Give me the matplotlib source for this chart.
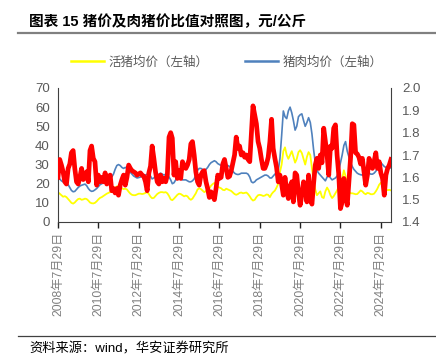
import matplotlib
matplotlib.use("Agg")
import matplotlib.pyplot as plt
import matplotlib.dates as mdates
from matplotlib.lines import Line2D
import pandas as pd

plt.rcParams['font.family'] = ['Liberation Sans', 'Noto Sans CJK SC', 'DejaVu Sans']

# ---------------- data (monthly, starting 2008-07-29) ----------------
start_date = "2008-07-29"

hog_price = [  # 活猪均价（左轴）
    15.5, 14.8, 14.0, 13.2, 13.5,
    13.0, 12.0, 11.0, 10.0, 9.6, 10.2, 11.2, 12.0, 12.2, 11.6, 11.8, 12.2,
    12.0, 11.2, 10.2, 9.8, 9.7, 10.0, 10.8, 11.8, 12.6, 13.0, 13.6, 14.2,
    14.8, 15.2, 15.6, 16.0, 16.8, 17.8, 18.6, 18.8, 18.4, 17.6, 17.2, 17.4,
    17.0, 15.8, 14.8, 14.2, 14.0, 14.0, 14.4, 14.8, 14.8, 14.6, 14.8, 15.2,
    15.6, 14.6, 13.2, 12.4, 12.6, 13.6, 14.6, 15.2, 15.6, 15.6, 15.4, 15.6,
    15.0, 13.6, 11.8, 11.4, 12.2, 13.2, 14.2, 14.8, 14.6, 14.0, 13.4, 13.8,
    13.4, 12.2, 11.6, 12.2, 13.6, 15.0, 17.0, 17.6, 17.2, 16.4, 15.6, 16.2,
    17.0, 17.6, 19.0, 19.8, 20.4, 19.6, 18.4, 18.0, 17.6, 16.8, 16.6, 17.4,
    17.0, 16.6, 16.2, 15.4, 14.6, 14.2, 14.6, 15.2, 15.4, 15.0, 15.2, 15.4,
    14.6, 13.4, 12.0, 11.2, 11.6, 13.0, 14.0, 14.2, 14.0, 13.6, 13.8, 14.4,
    14.2, 13.0, 14.6, 15.6, 16.4, 18.0, 20.0, 26.0, 30.0, 37.0, 39.0, 35.0,
    33.0, 35.0, 37.0, 34.0, 31.0, 33.0, 36.5, 37.5, 36.0, 33.0, 30.0, 34.0,
    36.5, 35.0, 28.0, 22.0, 17.0, 14.0, 15.0, 16.0, 13.0, 12.5, 16.0, 18.0,
    16.5, 14.0, 12.5, 13.5, 15.0, 16.5, 18.5, 21.0, 22.5, 27.0, 24.0, 19.0,
    16.0, 15.0, 15.0, 14.8, 14.5, 14.6, 15.5, 16.5, 16.0, 15.0, 14.5, 15.2,
    15.0, 14.5, 14.5, 14.8, 16.0, 17.5, 19.5, 20.5, 19.0, 18.0, 17.0, 16.6,
    16.8, 16.5,
]

pork_price = [  # 猪肉均价（左轴）
    23.0, 22.5, 21.5, 21.0, 21.2,
    20.5, 19.5, 18.0, 16.5, 15.8, 16.0, 17.0, 18.0, 18.8, 19.2, 19.5, 19.8,
    19.0, 17.5, 16.5, 16.0, 16.2, 16.8, 17.5, 18.5, 19.5, 20.0, 20.5, 21.0,
    21.5, 22.0, 22.5, 23.5, 25.0, 27.5, 29.5, 30.0, 29.5, 28.5, 28.0, 28.5,
    28.0, 27.0, 26.0, 25.0, 24.0, 23.5, 23.0, 23.2, 23.5, 24.0, 24.5, 24.5,
    25.0, 25.5, 24.0, 22.5, 23.0, 24.0, 24.5, 25.0, 25.5, 25.0, 24.5, 25.0,
    24.5, 23.5, 22.0, 20.0, 20.5, 22.0, 23.0, 23.0, 22.5, 22.0, 22.0, 22.0,
    21.5, 21.0, 21.0, 21.5, 22.5, 24.5, 27.0, 28.0, 28.0, 27.5, 27.0, 27.5,
    28.5, 30.0, 31.0, 31.5, 32.0, 31.5, 30.5, 30.0, 29.5, 29.0, 29.0, 29.5,
    29.5, 29.0, 28.0, 26.5, 25.5, 25.0, 24.8, 25.0, 25.5, 25.5, 25.5, 25.5,
    25.0, 23.5, 21.0, 20.5, 21.0, 22.0, 22.5, 23.0, 23.5, 24.0, 24.5, 24.5,
    24.0, 23.0, 23.0, 24.0, 25.0, 25.5, 27.0, 33.0, 45.0, 58.0, 55.0, 54.0,
    58.0, 60.0, 57.0, 53.0, 48.0, 50.0, 55.0, 56.0, 56.5, 53.0, 50.0, 52.0,
    54.5, 52.0, 46.0, 38.0, 31.0, 27.0, 25.5, 24.5, 23.5, 22.5, 21.5, 23.5,
    24.5, 23.0, 22.0, 22.5, 23.0, 24.0, 27.0, 31.0, 35.0, 40.0, 42.0, 37.0,
    34.0, 31.0, 29.0, 27.5, 26.5, 25.5, 25.0, 24.7, 24.5, 25.0, 25.5, 25.5,
    25.5, 25.0, 25.0, 25.5, 26.5, 28.0, 30.0, 31.0, 30.0, 29.0, 28.5, 28.0,
    28.0, 28.5,
]

pork_hog_ratio = [  # 肉猪价比值（右轴）
    1.60, 1.68, 1.655, 1.625, 1.58,
    1.57, 1.64, 1.66, 1.71, 1.72, 1.64, 1.58, 1.57, 1.60, 1.64, 1.59, 1.60,
    1.625, 1.58, 1.72, 1.74, 1.685, 1.67, 1.565, 1.61, 1.58, 1.60, 1.58, 1.62,
    1.57, 1.59, 1.61, 1.54, 1.55, 1.53, 1.55, 1.52, 1.565, 1.59, 1.61, 1.565,
    1.60, 1.655, 1.64, 1.63, 1.625, 1.62, 1.61, 1.615, 1.62, 1.61, 1.605, 1.58,
    1.54, 1.62, 1.65, 1.74, 1.685, 1.625, 1.58, 1.57, 1.61, 1.58, 1.595, 1.58,
    1.61, 1.78, 1.80, 1.775, 1.61, 1.67, 1.595, 1.63, 1.595, 1.67, 1.65, 1.64,
    1.655, 1.68, 1.75, 1.76, 1.70, 1.625, 1.58, 1.565, 1.61, 1.625, 1.63, 1.58,
    1.55, 1.51, 1.535, 1.52, 1.50, 1.55, 1.61, 1.595, 1.60, 1.66, 1.68, 1.64,
    1.60, 1.605, 1.63, 1.665, 1.70, 1.78, 1.73, 1.74, 1.70, 1.71, 1.69, 1.70,
    1.68, 1.67, 1.80, 1.92, 1.88, 1.84, 1.76, 1.73, 1.68, 1.64, 1.64, 1.66,
    1.69, 1.76, 1.86, 1.73, 1.685, 1.645, 1.58, 1.61, 1.57, 1.52, 1.60, 1.54,
    1.505, 1.56, 1.58, 1.49, 1.62, 1.61, 1.53, 1.475, 1.52, 1.58, 1.555, 1.49,
    1.61, 1.50, 1.48, 1.57, 1.655, 1.685, 1.64, 1.70, 1.665, 1.82, 1.76, 1.70,
    1.61, 1.74, 1.73, 1.82, 1.835, 1.70, 1.61, 1.46, 1.49, 1.595, 1.52, 1.475,
    1.58, 1.69, 1.84, 1.835, 1.71, 1.705, 1.69, 1.66, 1.685, 1.625, 1.565, 1.61,
    1.685, 1.655, 1.64, 1.67, 1.71, 1.64, 1.67, 1.62, 1.595, 1.52, 1.61, 1.64,
    1.655, 1.68,
]

series_labels = ["活猪均价（左轴）", "猪肉均价（左轴）"]
left_ticks = [0, 10, 20, 30, 40, 50, 60, 70]
right_ticks = [1.4, 1.5, 1.6, 1.7, 1.8, 1.9, 2.0]
tick_years = [2008, 2010, 2012, 2014, 2016, 2018, 2020, 2022, 2024]

title = "图表 15 猪价及肉猪价比值对照图，元/公斤"
source = "资料来源：wind，华安证券研究所"

# ---------------- figure ----------------
n = min(len(hog_price), len(pork_price), len(pork_hog_ratio))
dates = [pd.Timestamp(start_date) + pd.DateOffset(months=i) for i in range(n)]

W, H = 436, 363
fig = plt.figure(figsize=(W / 100, H / 100), dpi=100)
fig.patch.set_facecolor("white")

L, R, T, B = 58, 391, 88, 222
ax = fig.add_axes([L / W, 1 - B / H, (R - L) / W, (B - T) / H])
ax2 = ax.twinx()

ax.plot(dates, hog_price[:n], color="#FFFF00", lw=1.3, zorder=2)
ax.plot(dates, pork_price[:n], color="#4F81BD", lw=1.2, zorder=2)
ax2.plot(dates, pork_hog_ratio[:n], color="#FF0000", lw=3.4, solid_joinstyle="round", zorder=3)

ax.set_ylim(0, 70)
ax.set_yticks(left_ticks)
ax2.set_ylim(1.4, 2.0)
ax2.set_yticks(right_ticks)
ax2.set_yticklabels([f"{v:.1f}" for v in right_ticks])
ax.set_xlim(dates[0], dates[-1])

tick_dates = [pd.Timestamp(f"{y}-07-29") for y in tick_years]
ax.set_xticks(tick_dates)
ax.set_xticklabels([f"{d.year}年{d.month}月{d.day}日" for d in tick_dates],
                   rotation=90, fontsize=8.8, color="#808080")

gray = "#595959"
for a in (ax, ax2):
    for s in a.spines.values():
        s.set_visible(False)
ax.spines["left"].set_visible(True)
ax.spines["left"].set_color("#404040")
ax.spines["bottom"].set_visible(True)
ax.spines["bottom"].set_color("#404040")
ax2.spines["right"].set_visible(True)
ax2.spines["right"].set_color("#404040")

ax.tick_params(axis="y", length=0, labelsize=9.5, labelcolor=gray, pad=6)
ax2.tick_params(axis="y", length=0, labelsize=9.5, labelcolor=gray, pad=8)
ax.tick_params(axis="x", length=4, width=1, color="#202020", pad=3)

# legend
handles = [Line2D([], [], color="#FFFF00", lw=1.8), Line2D([], [], color="#4F81BD", lw=1.8)]
fig.legend(handles, series_labels, loc="center left", bbox_to_anchor=(60 / W, 1 - 62 / H),
           ncol=2, frameon=False, handlelength=2.6, handletextpad=0.4, columnspacing=2.9,
           prop={"family": ["Noto Sans CJK SC"], "size": 9}, labelcolor=gray)

# title + rules
fig.text(29 / W, 1 - 22 / H, title, fontsize=10.5, fontweight="bold", color="black",
         va="center", ha="left")
fig.add_artist(Line2D([18 / W, 1], [1 - 33 / H, 1 - 33 / H], color="#808080", lw=1.6))
fig.add_artist(Line2D([18 / W, 1], [1 - 336 / H, 1 - 336 / H], color="#404040", lw=0.9))
fig.text(29 / W, 1 - 349 / H, source, fontsize=9.5, color="black", va="center", ha="left")

fig.savefig("out.png", dpi=100, facecolor="white")
